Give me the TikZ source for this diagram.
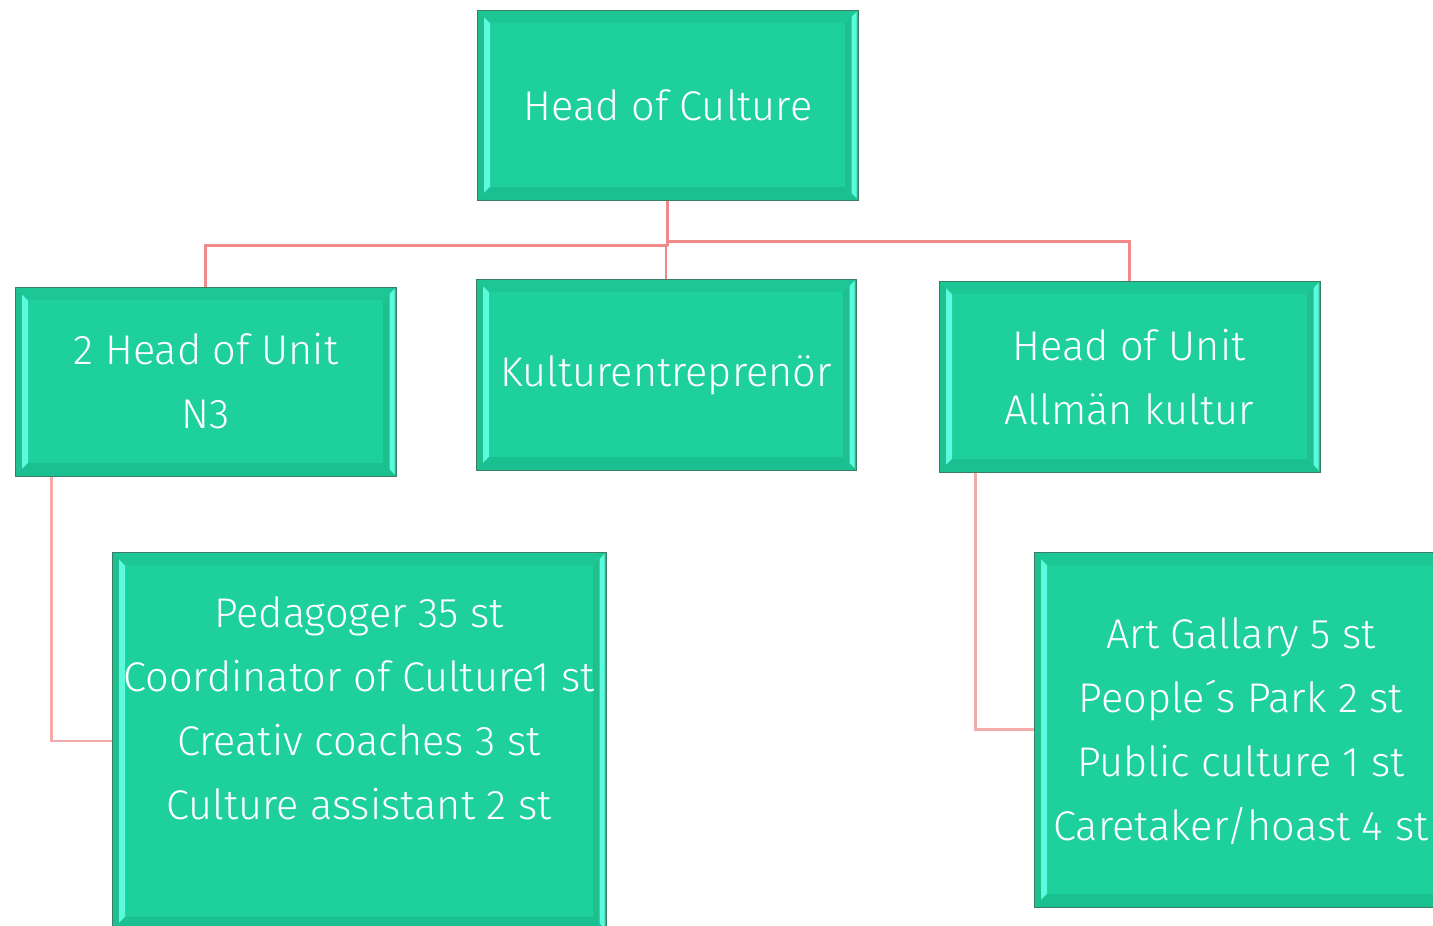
\documentclass[tikz,border=0pt]{standalone}
\usepackage{fontspec}
\setmainfont{Fira Sans Light}
\definecolor{mainc}{HTML}{1ED19C}
\definecolor{bordc}{HTML}{3C7D68}
\definecolor{bevg}{HTML}{20BF8F}
\definecolor{bevc}{HTML}{5CFBDE}
\definecolor{bevt}{HTML}{1CC795}
\definecolor{bevb}{HTML}{1BC090}
\definecolor{conna}{HTML}{F08A8A}
\definecolor{connb}{HTML}{F4AAAA}
\tikzset{
  bevbox/.style={draw=bordc, line width=1pt, fill=mainc, inner sep=0pt, rectangle,
    path picture={
      % left bevel
      \fill[bevg]
        (path picture bounding box.north west) --
        ([xshift=13pt,yshift=-13pt]path picture bounding box.north west) --
        ([xshift=13pt,yshift=13pt]path picture bounding box.south west) --
        (path picture bounding box.south west) -- cycle;
      \fill[bevc]
        ([xshift=7pt,yshift=-7pt]path picture bounding box.north west) --
        ([xshift=13pt,yshift=-13pt]path picture bounding box.north west) --
        ([xshift=13pt,yshift=13pt]path picture bounding box.south west) --
        ([xshift=7pt,yshift=7pt]path picture bounding box.south west) -- cycle;
      % right bevel
      \fill[bevg]
        (path picture bounding box.north east) --
        ([xshift=-13pt,yshift=-13pt]path picture bounding box.north east) --
        ([xshift=-13pt,yshift=13pt]path picture bounding box.south east) --
        (path picture bounding box.south east) -- cycle;
      \fill[bevc]
        ([xshift=-1.5pt,yshift=-1.5pt]path picture bounding box.north east) --
        ([xshift=-6.5pt,yshift=-6.5pt]path picture bounding box.north east) --
        ([xshift=-6.5pt,yshift=6.5pt]path picture bounding box.south east) --
        ([xshift=-1.5pt,yshift=1.5pt]path picture bounding box.south east) -- cycle;
      % top and bottom bevels
      \fill[bevt]
        (path picture bounding box.north west) --
        (path picture bounding box.north east) --
        ([xshift=-13pt,yshift=-13pt]path picture bounding box.north east) --
        ([xshift=13pt,yshift=-13pt]path picture bounding box.north west) -- cycle;
      \fill[bevb]
        (path picture bounding box.south west) --
        (path picture bounding box.south east) --
        ([xshift=-13pt,yshift=13pt]path picture bounding box.south east) --
        ([xshift=13pt,yshift=13pt]path picture bounding box.south west) -- cycle;
    }},
  boxtext/.style={text=white, align=center, inner sep=0pt, font=\fontsize{41.5}{64}\selectfont},
  conn/.style={draw=conna, line width=2.2pt},
  connlow/.style={draw=connb, line width=2.2pt}
}
\begin{document}
\begin{tikzpicture}[x=1pt,y=-1pt]
\useasboundingbox (0,0) rectangle (1433,926);
% boxes
\node[bevbox, minimum width=381pt, minimum height=190pt] (top) at (667.5,105) {};
\node[bevbox, minimum width=381pt, minimum height=189pt] (unit2) at (205.5,381.5) {};
\node[bevbox, minimum width=380pt, minimum height=191pt] (kult) at (666,374.5) {};
\node[bevbox, minimum width=381pt, minimum height=191pt] (allm) at (1129.5,376.5) {};
\node[bevbox, minimum width=494pt, minimum height=378pt] (ped) at (359,741) {};
\node[bevbox, minimum width=466pt, minimum height=355pt] (art) at (1267,729.5) {};
% connectors
\draw[conn] (top.south) -- ++(0,41) -| (allm.north);
\draw[conn] ([yshift=-45pt]top.south) -| (unit2.north);
\draw[conn] (top.south) -- ++(0,45);
\draw[conn] (kult.north) -- ++(0,-34);
\draw[connlow] ([xshift=37pt]unit2.south west) |- (ped.west);
\draw[connlow] ([xshift=37pt]allm.south west) |- (art.west);
% texts
\node[boxtext] (ttop) at (668,105) {Head of Culture};
\node[boxtext] (tunit2) at (206,381) {2 Head of Unit\\N3};
\node[boxtext] (tkult) at (666,375) {Kulturentreprenör};
\node[boxtext] (tallm) at (1129,377) {Head of Unit\\Allmän kultur};
\node[boxtext] (tped) at (359,708) {Pedagoger 35 st\\Coordinator of Culture1 st\\Creativ coaches 3 st\\Culture assistant 2 st};
\node[boxtext] (tart) at (1241,731) {Art Gallary 5 st\\People´s Park 2 st\\Public culture 1 st\\Caretaker/hoast 4 st};
\end{tikzpicture}
\end{document}
